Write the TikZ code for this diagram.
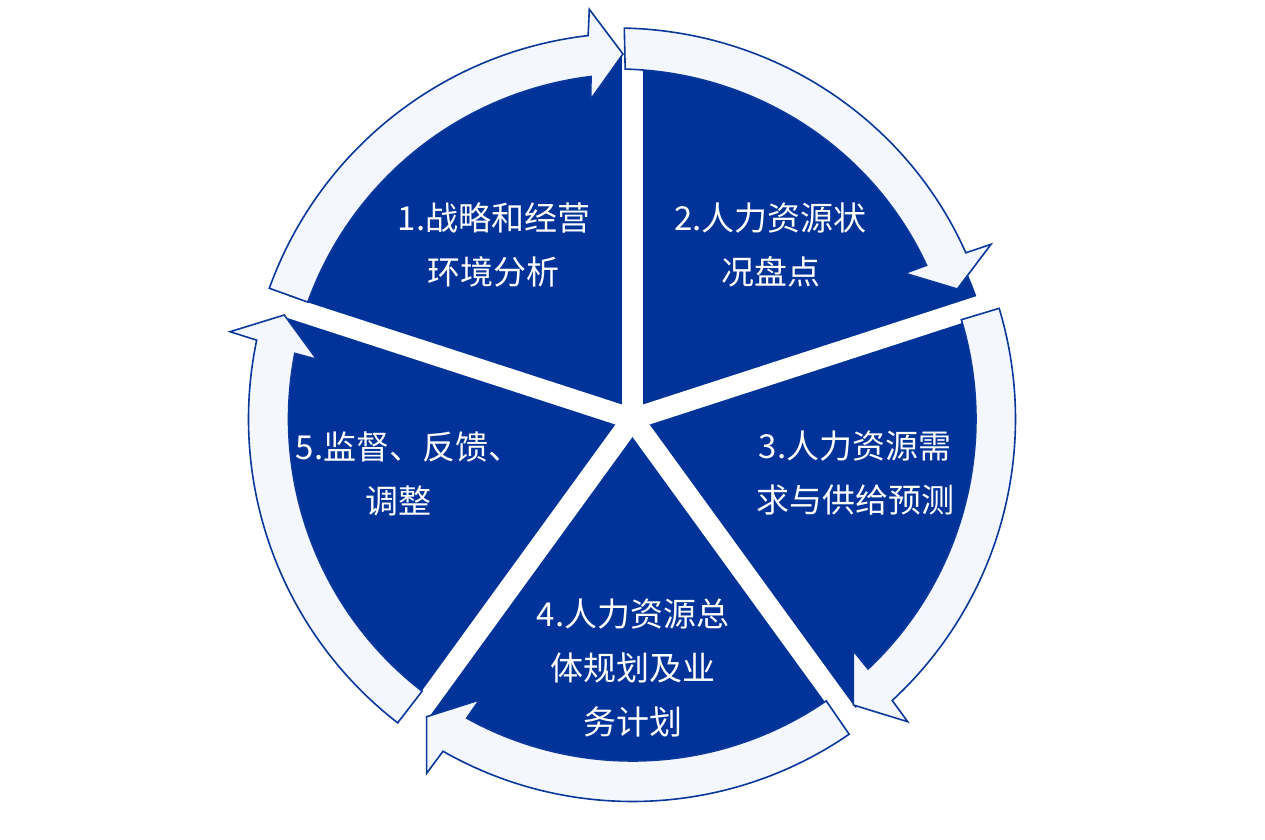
\documentclass[tikz,border=0pt]{standalone}
\usepackage{fontspec}
\newfontfamily\cjk{Noto Sans CJK SC}
\definecolor{dblue}{HTML}{003399}
\definecolor{afill}{HTML}{F4F7FE}
\definecolor{aline}{HTML}{0A389C}
\begin{document}
\begin{tikzpicture}[x=1pt,y=1pt,
  arrowband/.style={fill=afill, draw=aline, line width=1.6pt, line join=miter},
  lbl/.style={text=white, align=center, inner sep=0pt, font=\cjk\fontsize{33}{54}\selectfont}]
\useasboundingbox (-632.5,-420) rectangle (632.5,419);
\fill[white] (-632.5,-420) rectangle (632.5,419);
% disk and gaps
\fill[dblue] (0,0) circle[radius=365];
\foreach \a in {90,18,-54,-126,162} \draw[white, line width=21pt] (0,0) -- (\a:420);
\fill[white] (0,0) circle[radius=11];
% arrow 1
\draw[arrowband] (160.2:345) -- (160.2:386) arc[start angle=160.2, end angle=96.6, radius=386]
  -- (-43.2,409.7) -- (-9.5,365) -- (-41.8,319.7) -- (96.9:345)
  arc[start angle=96.9, end angle=160.2, radius=345] -- cycle;
% arrow 2 (slight spiral)
\draw[arrowband] plot[domain=91.2:26.5, samples=60] ({(372.5+0.286*(\x-26.5))*cos(\x)}, {(372.5+0.286*(\x-26.5))*sin(\x)})
  -- (358.5,174.7) -- (324.8,130) -- (272.5,145.7)
  -- plot[domain=27.6:91.2, samples=60] ({(331.5+0.286*(\x-26.5))*cos(\x)}, {(331.5+0.286*(\x-26.5))*sin(\x)}) -- cycle;
% arrow 3
\draw[arrowband] (16.8:343.5) -- (16.8:383) arc[start angle=16.8, end angle=-47.3, radius=383]
  -- (275.2,-302.7) -- (220.8,-286) -- (220.8,-231.7) -- (-46.7:343.5)
  arc[start angle=-46.7, end angle=16.8, radius=343.5] -- cycle;
% arrow 4
\draw[arrowband] (-55.5:342) -- (-55.5:382.5) arc[start angle=-55.5, end angle=-119.7, radius=382.5]
  -- (-205.8,-354.3) -- (-205.8,-297.7) -- (-153.2,-281) -- (-119:342)
  arc[start angle=-119, end angle=-55.5, radius=342] -- cycle;
% arrow 5
\draw[arrowband] (232.3:344) -- (232.3:384) arc[start angle=232.3, end angle=168.15, radius=384]
  -- (-402.5,87.3) -- (-348.2,104) -- (-315.8,59.7) -- (169:344)
  arc[start angle=169, end angle=232.3, radius=344] -- cycle;
% labels
\node[lbl] (s1) at (-138.5,174.5) {1.战略和经营\\环境分析};
\node[lbl] (s2) at (138,174.5) {2.人力资源状\\况盘点};
\node[lbl] (s3) at (222.5,-54.5) {3.人力资源需\\求与供给预测};
\node[lbl] (s4) at (0.5,-249) {4.人力资源总\\体规划及业\\务计划};
\node[lbl] (s5) at (-224,-54.5) {5.监督、反馈、\\\makebox[86pt][l]{调整}};
\end{tikzpicture}
\end{document}
